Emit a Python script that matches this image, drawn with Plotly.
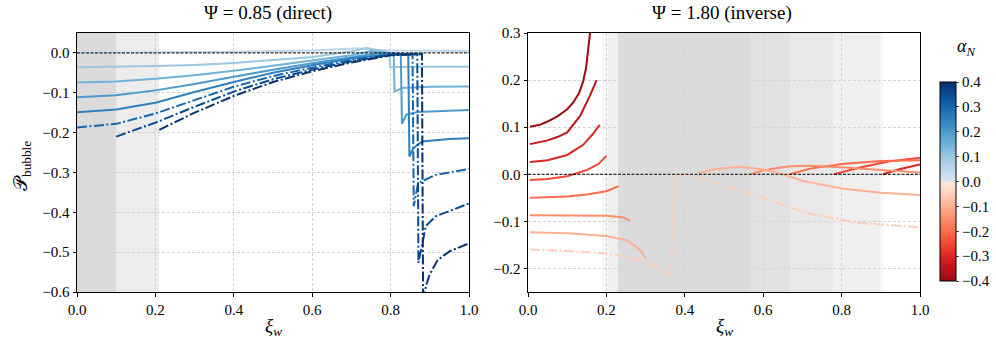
import plotly.graph_objects as go
import plotly.colors as pc

# colour parameter of each curve
ALPHA_DIRECT = [0.05, 0.10, 0.15, 0.20, 0.25, 0.30, 0.35, 0.40]
ALPHA_INVERSE = [-0.40, -0.35, -0.30, -0.25, -0.20, -0.15, -0.10, -0.05]

DASH_DIRECT = ["solid", "solid", "solid", "solid", "solid", "dashdot", "dashdot", "dashdot"]
DASH_INVERSE = ["solid", "solid", "solid", "solid", "solid", "solid", "solid", "dashdot"]

# Psi = 0.85 (direct) curves
XI_DIRECT = [
    [0.0, 0.2, 0.4, 0.6, 0.7, 0.72, 0.76, 0.8, 1.0],
    [0.0, 0.1, 0.2, 0.3, 0.4, 0.5, 0.6, 0.7, 0.74, 0.78, 0.797, 0.799, 0.85, 1.0],
    [0.0, 0.1, 0.2, 0.3, 0.4, 0.5, 0.6, 0.7, 0.75, 0.79, 0.808, 0.81, 0.83, 0.9, 1.0],
    [0.0, 0.1, 0.2, 0.3, 0.4, 0.5, 0.6, 0.7, 0.77, 0.826, 0.829, 0.84, 0.87, 1.0],
    [0.0, 0.1, 0.2, 0.3, 0.4, 0.5, 0.6, 0.7, 0.8, 0.845, 0.848, 0.858, 0.88, 0.95, 1.0],
    [0.0, 0.1, 0.2, 0.3, 0.4, 0.5, 0.6, 0.7, 0.8, 0.856, 0.859, 0.87, 0.915, 1.0],
    [0.1, 0.2, 0.3, 0.4, 0.5, 0.6, 0.7, 0.8, 0.868, 0.871, 0.89, 0.915, 1.0],
    [0.21, 0.3, 0.4, 0.5, 0.6, 0.7, 0.8, 0.88, 0.883, 0.89, 0.9, 0.92, 0.95, 1.0],
]
P_DIRECT = [
    [0.0, 0.001, 0.003, 0.006, 0.010, 0.012, 0.008, 0.006, 0.005],
    [-0.036, -0.035, -0.033, -0.030, -0.025, -0.018, -0.010, 0.004, 0.012, 0.004, 0.0, -0.036, -0.035, -0.035],
    [-0.074, -0.072, -0.065, -0.056, -0.045, -0.032, -0.020, -0.006, 0.005, 0.0, -0.002, -0.097, -0.088, -0.085, -0.084],
    [-0.111, -0.106, -0.094, -0.078, -0.060, -0.042, -0.026, -0.011, 0.0, -0.002, -0.178, -0.155, -0.148, -0.143],
    [-0.149, -0.142, -0.125, -0.098, -0.073, -0.050, -0.031, -0.014, -0.002, -0.003, -0.260, -0.239, -0.222, -0.216, -0.214],
    [-0.187, -0.178, -0.152, -0.118, -0.085, -0.058, -0.037, -0.018, -0.004, -0.003, -0.385, -0.327, -0.306, -0.291],
    [-0.210, -0.175, -0.135, -0.097, -0.066, -0.042, -0.021, -0.005, -0.003, -0.527, -0.434, -0.410, -0.378],
    [-0.193, -0.150, -0.108, -0.073, -0.046, -0.024, -0.006, -0.003, -0.650, -0.585, -0.555, -0.520, -0.498, -0.478],
]

# Psi = 1.80 (inverse) curves, None splits a curve into two branches
XI_INVERSE = [
    [0.005, 0.03, 0.05, 0.075, 0.1, 0.115, 0.13, 0.14, 0.148, 0.153, 0.157, 0.16],
    [0.005, 0.05, 0.075, 0.1, 0.133, 0.158, 0.175],
    [0.005, 0.05, 0.1, 0.14, 0.165, 0.183, None, 0.905, 0.95, 1.0],
    [0.005, 0.05, 0.1, 0.15, 0.18, 0.2, None, 0.78, 0.85, 0.92, 1.0],
    [0.005, 0.1, 0.15, 0.2, 0.231, None, 0.668, 0.72, 0.8, 0.9, 1.0],
    [0.005, 0.1, 0.2, 0.24, 0.26, None, 0.567, 0.6, 0.64, 0.67, 0.72, 0.8, 0.9, 1.0],
    [0.005, 0.1, 0.2, 0.25, 0.275, 0.29, 0.30, None, 0.434, 0.48, 0.54, 0.6, 0.65, 0.7, 0.8, 0.9, 1.0],
    [0.005, 0.1, 0.2, 0.25, 0.3, 0.33, 0.355, 0.364, 0.374, 0.39, 0.45, 0.5, 0.55, 0.61, 0.71, 0.84, 1.0],
]
P_INVERSE = [
    [0.101, 0.105, 0.112, 0.123, 0.138, 0.152, 0.172, 0.195, 0.225, 0.255, 0.290, 0.320],
    [0.064, 0.072, 0.079, 0.089, 0.124, 0.167, 0.200],
    [0.026, 0.030, 0.041, 0.062, 0.085, 0.105, None, 0.0, 0.011, 0.021],
    [-0.012, -0.010, -0.004, 0.009, 0.022, 0.039, None, 0.0, 0.015, 0.027, 0.035],
    [-0.050, -0.047, -0.043, -0.036, -0.025, None, 0.0, 0.012, 0.022, 0.028, 0.030],
    [-0.087, -0.087, -0.088, -0.091, -0.098, None, 0.0, 0.008, 0.014, 0.017, 0.018, 0.015, 0.009, 0.004],
    [-0.123, -0.125, -0.131, -0.140, -0.153, -0.165, -0.179, None, 0.002, 0.011, 0.016, 0.010, 0.0, -0.014, -0.030, -0.039, -0.044],
    [-0.160, -0.163, -0.168, -0.175, -0.186, -0.196, -0.210, -0.222, 0.0, 0.0, -0.010, -0.025, -0.037, -0.053, -0.082, -0.103, -0.113],
]

# shaded xi intervals
SPANS_DIRECT = [(0.0, 0.1), (0.0, 0.21)]
SPANS_INVERSE = [(0.188, 0.906), (0.205, 0.898), (0.23, 0.778), (0.23, 0.668), (0.23, 0.566)]

XTICKS = [0.0, 0.2, 0.4, 0.6, 0.8, 1.0]
YTICKS_DIRECT = [0.0, -0.1, -0.2, -0.3, -0.4, -0.5, -0.6]
YTICKS_INVERSE = [-0.2, -0.1, 0.0, 0.1, 0.2, 0.3]
CBAR_TICKS = [-0.4, -0.3, -0.2, -0.1, 0.0, 0.1, 0.2, 0.3, 0.4]

W, H = 996, 351
FONT = "Liberation Serif"
AMAX = 0.4
DASHES = {"solid": "solid", "dashdot": "10px,2.5px,2px,2.5px"}


def alpha_colour(a):
    # Reds for negative alpha, Blues for positive alpha (both slightly trimmed)
    if a < 0:
        t = 0.08 + 0.82 * (-a / AMAX)
        return pc.sample_colorscale(pc.sequential.Reds, t)[0]
    t = 0.18 + 0.82 * (a / AMAX)
    return pc.sample_colorscale(pc.sequential.Blues, t)[0]


# diverging colour bar built from the same mapping
colorscale = []
for i in range(21):
    a = -AMAX + AMAX * i / 20
    colorscale.append([min((a + AMAX) / (2 * AMAX), 0.4999), alpha_colour(min(a, -1e-6))])
for i in range(21):
    a = AMAX * i / 20
    colorscale.append([max((a + AMAX) / (2 * AMAX), 0.5001), alpha_colour(a)])
colorscale[0][0] = 0.0
colorscale[-1][0] = 1.0

fig = go.Figure()

for a, dash, xs, ys in zip(ALPHA_DIRECT, DASH_DIRECT, XI_DIRECT, P_DIRECT):
    fig.add_trace(go.Scatter(
        x=xs, y=ys, mode="lines", xaxis="x", yaxis="y",
        line=dict(color=alpha_colour(a), width=2, dash=DASHES[dash]),
        showlegend=False,
    ))

for a, dash, xs, ys in zip(ALPHA_INVERSE, DASH_INVERSE, XI_INVERSE, P_INVERSE):
    fig.add_trace(go.Scatter(
        x=xs, y=ys, mode="lines", xaxis="x2", yaxis="y2", connectgaps=False,
        line=dict(color=alpha_colour(a), width=2, dash=DASHES[dash]),
        showlegend=False,
    ))

# dummy trace just for the colour bar
fig.add_trace(go.Scatter(
    x=[None], y=[None], mode="markers", xaxis="x2", yaxis="y2", showlegend=False,
    marker=dict(
        color=[0], colorscale=colorscale, cmin=-AMAX, cmax=AMAX, showscale=True,
        colorbar=dict(
            x=930 / W, xanchor="left", y=1 - 181.5 / H, yanchor="middle",
            len=219 / H, lenmode="fraction", thickness=16, thicknessmode="pixels",
            outlinewidth=1, outlinecolor="black", ticks="outside", ticklen=3,
            tickvals=CBAR_TICKS, tickformat=".1f", tickfont=dict(family=FONT, size=15, color="black"),
        ),
    ),
))

shapes = []
for x0, x1 in SPANS_DIRECT:
    shapes.append(dict(type="rect", xref="x", yref="y domain", x0=x0, x1=x1, y0=0, y1=1,
                       fillcolor="grey", opacity=0.15, line=dict(width=0), layer="below"))
for x0, x1 in SPANS_INVERSE:
    shapes.append(dict(type="rect", xref="x2", yref="y2 domain", x0=x0, x1=x1, y0=0, y1=1,
                       fillcolor="grey", opacity=0.065, line=dict(width=0), layer="below"))
# zero reference lines
for xr, yr in (("x domain", "y"), ("x2 domain", "y2")):
    shapes.append(dict(type="line", xref=xr, yref=yr, x0=0, x1=1, y0=0, y1=0,
                       line=dict(color="black", width=1, dash="3px,1.5px"), layer="above"))

axis_style = dict(
    showline=True, linecolor="black", linewidth=1, mirror=True,
    ticks="outside", ticklen=3.5, tickcolor="black",
    showgrid=True, gridcolor="#d4d4d4", griddash="3px,2px", gridwidth=1,
    zeroline=False, tickformat=".1f", automargin=False,
    tickfont=dict(family=FONT, size=15, color="black"),
)
ydom = [1 - 292 / H, 1 - 33 / H]

fig.update_layout(
    width=W, height=H,
    margin=dict(l=0, r=0, t=0, b=0, autoexpand=False),
    plot_bgcolor="white", paper_bgcolor="white",
    xaxis=dict(domain=[77 / W, 469 / W], range=[0, 1], tickvals=XTICKS, anchor="y", **axis_style),
    yaxis=dict(domain=ydom, range=[-0.6, 0.05], tickvals=YTICKS_DIRECT, anchor="x", **axis_style),
    xaxis2=dict(domain=[528 / W, 920 / W], range=[0, 1], tickvals=XTICKS, anchor="y2", **axis_style),
    yaxis2=dict(domain=ydom, range=[-0.25, 0.3], tickvals=YTICKS_INVERSE, anchor="x2", **axis_style),
    shapes=shapes,
    font=dict(family=FONT, color="black"),
)

annots = [
    dict(x=268 / W, y=1 - 13 / H, text="Ψ = 0.85 (direct)", size=19),
    dict(x=722 / W, y=1 - 13 / H, text="Ψ = 1.80 (inverse)", size=19),
    dict(x=273 / W, y=1 - 327 / H, text="<i>ξ</i><sub><i>w</i></sub>", size=19),
    dict(x=724 / W, y=1 - 327 / H, text="<i>ξ</i><sub><i>w</i></sub>", size=19),
    dict(x=966 / W, y=1 - 47 / H, text="<i>α</i><sub><i>N</i></sub>", size=18),
]
for an in annots:
    fig.add_annotation(x=an["x"], y=an["y"], xref="paper", yref="paper", text=an["text"],
                       showarrow=False, xanchor="center", yanchor="middle",
                       font=dict(family=FONT, size=an["size"], color="black"))
fig.add_annotation(x=22 / W, y=1 - 166 / H, xref="paper", yref="paper",
                   text="𝒫<sub>bubble</sub>", textangle=-90, showarrow=False,
                   xanchor="center", yanchor="middle",
                   font=dict(family=FONT, size=19, color="black"))

# drop the default page margin so the figure sits at the window corner
fig.write_html("out.html", config={"displayModeBar": False},
               post_script="document.body.style.margin = '0px';")
